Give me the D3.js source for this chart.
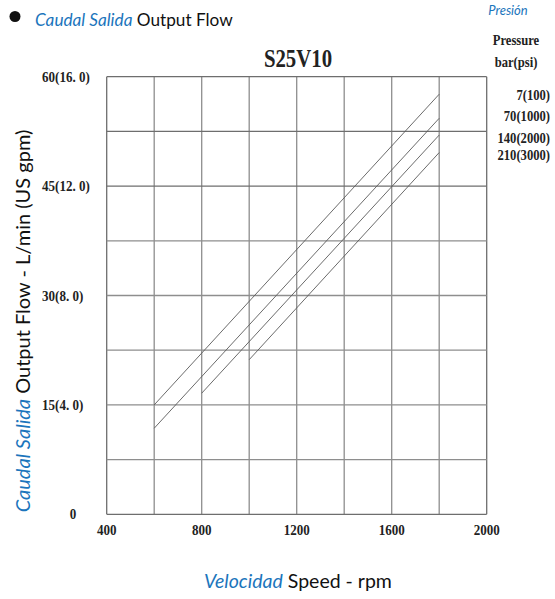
<!DOCTYPE html>
<html>
<head>
<meta charset="utf-8">
<script src="https://cdn.jsdelivr.net/npm/d3@7"></script>
<style>
  html, body { margin: 0; padding: 0; background: #fff; }
  svg { display: block; }
</style>
</head>
<body>
<svg id="chart" width="555" height="599"></svg>
<script>
// Pump S25V10: output flow vs. shaft speed at four pressures
const pressureLabels = ["7(100)", "70(1000)", "140(2000)", "210(3000)"];
const speedStart = [600, 600, 800, 1000];        // rpm where each curve begins
const speedEnd   = [1800, 1800, 1800, 1800];     // rpm where each curve ends
const flowStart  = [15.0, 11.8, 16.6, 21.2];     // L/min at start
const flowEnd    = [57.6, 54.3, 52.0, 49.6];     // L/min at end

const xTicks = [400, 800, 1200, 1600, 2000];
const yTicks = [0, 15, 30, 45, 60];
const yTickLabels = ["0", "15(4. 0)", "30(8. 0)", "45(12. 0)", "60(16. 0)"];

const BLUE = "#1b75bc";
const SANS = "Lato, 'Open Sans', sans-serif";
const SERIF = "'Liberation Serif', 'DejaVu Serif', serif";
const NARROW = 0.87;   // horizontal squeeze for the condensed serif labels

const svg = d3.select("#chart");

const x = d3.scaleLinear().domain([400, 2000]).range([106.7, 486.7]);
const y = d3.scaleLinear().domain([0, 60]).range([514.3, 76.7]);

// grid
const g = svg.append("g");
g.selectAll("line.v")
  .data(d3.range(400, 2001, 200))
  .join("line")
  .attr("x1", d => x(d)).attr("x2", d => x(d))
  .attr("y1", y(0)).attr("y2", y(60))
  .attr("stroke", d => (d === 400 || d === 2000) ? "#6e6e6e" : "#8e8e8e")
  .attr("stroke-width", 1.3);
g.selectAll("line.h")
  .data(d3.range(0, 60.01, 7.5))
  .join("line")
  .attr("x1", x(400)).attr("x2", x(2000))
  .attr("y1", d => y(d)).attr("y2", d => y(d))
  .attr("stroke", d => (d === 0 || d === 60 || d === 45 || d === 52.5) ? "#6e6e6e" : "#8e8e8e")
  .attr("stroke-width", 1.3);

// performance curves
const curves = pressureLabels.map((p, i) => [
  [speedStart[i], flowStart[i]],
  [speedEnd[i], flowEnd[i]]
]);
const line = d3.line().x(d => x(d[0])).y(d => y(d[1]));
svg.append("g").selectAll("path")
  .data(curves)
  .join("path")
  .attr("d", line)
  .attr("fill", "none")
  .attr("stroke", "#5a5a5a")
  .attr("stroke-width", 0.9);

// condensed bold serif label helper
function serifLabel(sel, size, anchor) {
  return sel.append("text")
    .attr("text-anchor", anchor)
    .attr("font-family", SERIF)
    .attr("font-weight", "bold")
    .attr("font-size", size)
    .attr("fill", "#222");
}

// x tick labels
svg.append("g").selectAll("g")
  .data(xTicks)
  .join("g")
  .attr("transform", d => `translate(${x(d)},534.5) scale(${NARROW},1)`)
  .each(function (d) { serifLabel(d3.select(this), 15, "middle").text(d); });

// y tick labels
svg.append("g").selectAll("g")
  .data(yTicks)
  .join("g")
  .attr("transform", (d, i) =>
    `translate(${yTickLabels[i] === "0" ? 73 : 42},${y(d) + 5}) scale(${NARROW},1)`)
  .each(function (d, i) {
    serifLabel(d3.select(this), 15, yTickLabels[i] === "0" ? "middle" : "start").text(yTickLabels[i]);
  });

// title
svg.append("text")
  .attr("transform", "translate(298,67) scale(0.8,1)")
  .attr("text-anchor", "middle")
  .attr("font-family", SERIF)
  .attr("font-weight", "bold")
  .attr("font-size", 26)
  .attr("fill", "#222")
  .text("S25V10");

// pressure legend
svg.append("text")
  .attr("x", 508).attr("y", 15)
  .attr("text-anchor", "middle")
  .attr("font-family", SANS)
  .attr("font-style", "italic")
  .attr("font-size", 13)
  .attr("fill", BLUE)
  .text("Presión");
serifLabel(svg.append("g").attr("transform", `translate(516,45) scale(${NARROW},1)`), 14.5, "middle")
  .text("Pressure");
serifLabel(svg.append("g").attr("transform", `translate(516,67) scale(${NARROW},1)`), 14.5, "middle")
  .text("bar(psi)");
const legendY = [100, 121, 142.5, 159.5];
svg.append("g").selectAll("g")
  .data(pressureLabels)
  .join("g")
  .attr("transform", (d, i) => `translate(550,${legendY[i]}) scale(${NARROW},1)`)
  .each(function (d) { serifLabel(d3.select(this), 14.5, "end").text(d); });

// header
svg.append("circle")
  .attr("cx", 15).attr("cy", 16.5).attr("r", 5.5)
  .attr("fill", "#111");
const head = svg.append("text")
  .attr("x", 35).attr("y", 26)
  .attr("font-family", SANS)
  .attr("font-size", 17.2)
  .attr("fill", "#111");
head.append("tspan").attr("font-style", "italic").attr("fill", BLUE).text("Caudal Salida");
head.append("tspan").text(" Output Flow");

// y axis title
const yt = svg.append("text")
  .attr("transform", "translate(30,321) rotate(-90)")
  .attr("text-anchor", "middle")
  .attr("font-family", SANS)
  .attr("font-size", 20)
  .attr("fill", "#111");
yt.append("tspan").attr("font-style", "italic").attr("fill", BLUE).text("Caudal Salida");
yt.append("tspan").text(" Output Flow - L/min (US gpm)");

// x axis title
const xt = svg.append("text")
  .attr("x", 298).attr("y", 588)
  .attr("text-anchor", "middle")
  .attr("font-family", SANS)
  .attr("font-size", 19.5)
  .attr("fill", "#111");
xt.append("tspan").attr("font-style", "italic").attr("fill", BLUE).text("Velocidad");
xt.append("tspan").text(" Speed - rpm");
</script>
</body>
</html>
